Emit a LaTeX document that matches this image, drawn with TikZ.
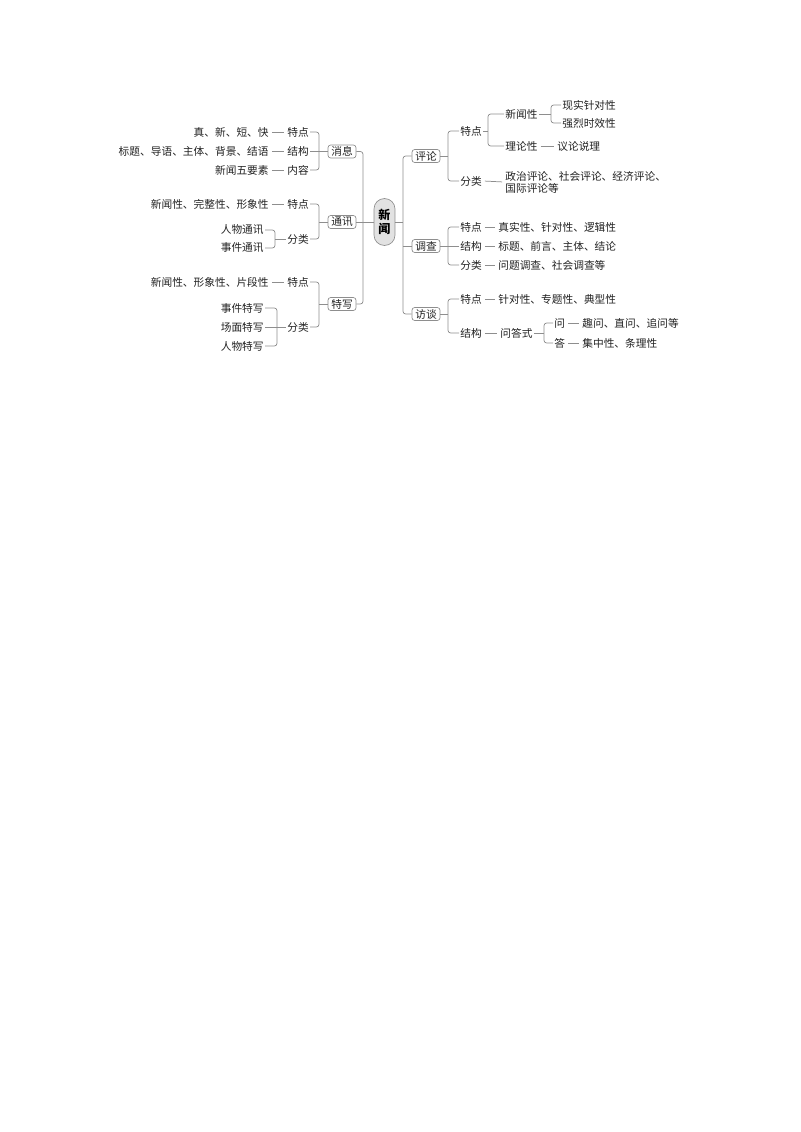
\documentclass[tikz,border=0pt]{standalone}
\usepackage{fontspec}
\setmainfont{Noto Sans CJK SC}
\usetikzlibrary{calc}
\definecolor{ln}{HTML}{8E8E8E}
\definecolor{tx}{HTML}{222222}
\definecolor{hubfill}{HTML}{E2E2E2}
\begin{document}
\begin{tikzpicture}[x=0.2625mm, y=-0.2625mm,
  t/.style={font=\fontsize{8}{9}\selectfont, text=tx, inner sep=1pt, outer sep=0pt},
  blk/.style={t, align=left, font=\fontsize{8}{9}\selectfont},
  box/.style={draw=ln, line width=0.5pt, rounded corners=2pt, fill=white, text=tx,
    font=\fontsize{8}{9}\selectfont, minimum width=7.35mm, minimum height=3.4mm, inner sep=0pt},
  hub/.style={draw=ln, line width=0.5pt, rounded corners=2.7mm, fill=hubfill, text=black,
    font=\fontsize{9}{11}\selectfont\bfseries, minimum width=5.5mm, minimum height=12.3mm,
    inner sep=0pt, align=center},
  conn/.style={draw=ln, line width=0.55pt, rounded corners=2pt},
  gap/.style={shorten <=1.4pt, shorten >=1.4pt}]
\fill[white] (0,0) rectangle (800,1132);
\useasboundingbox (0,0) rectangle (800,1132);

% trunk coordinates
\coordinate (lt) at (363,0);
\coordinate (rt) at (403,0);
\coordinate (b1) at (319,0);
\coordinate (b2) at (275,0);
\coordinate (b3) at (277,0);
\coordinate (c1) at (448,0);
\coordinate (c2) at (488,0);
\coordinate (c3) at (551,0);
\coordinate (c4) at (544,0);

% centre and first level
\node[hub] (xw) at (384.5,222) {新\\闻};
\node[box] (xx) at (342,151.5) {消息};
\node[box] (tx) at (342,222) {通讯};
\node[box] (tw) at (342,304) {特写};
\node[box] (pl) at (426,156) {评论};
\node[box] (dc) at (426,246) {调查};
\node[box] (ft) at (426,314) {访谈};

\draw[conn] (xx.east) -| (lt |- tw.east) -- (tw.east);
\draw[conn] (tx.east) -- (xw.west);
\draw[conn] (pl.west) -| (rt |- ft.west) -- (ft.west);
\draw[conn] (xw.east) -- (rt |- xw.east);
\draw[conn] (dc.west) -- (rt |- dc.west);

% ===== 消息 =====
\node[t, anchor=west] (x1) at (286,132) {特点};
\node[t, anchor=west] (x2) at (286,151.5) {结构};
\node[t, anchor=west] (x3) at (286,170) {内容};
\node[t, anchor=east] (x1a) at (270,132) {真、新、短、快};
\node[t, anchor=east] (x2a) at (270,151.5) {标题、导语、主体、背景、结语};
\node[t, anchor=east] (x3a) at (270,170) {新闻五要素};
\draw[conn, gap] (x1a.east) -- (x1.west);
\draw[conn, gap] (x2a.east) -- (x2.west);
\draw[conn, gap] (x3a.east) -- (x3.west);
\draw[conn] (x1.east) -| (b1 |- xx.west) |- (x3.east);
\draw[conn] (x2.east) -- (xx.west);

% ===== 通讯 =====
\node[t, anchor=west] (t1) at (286,204) {特点};
\node[t, anchor=west] (t2) at (286,239) {分类};
\node[t, anchor=east] (t1a) at (270,204) {新闻性、完整性、形象性};
\node[t, anchor=east] (t2a) at (265,230) {人物通讯};
\node[t, anchor=east] (t2b) at (265,248) {事件通讯};
\draw[conn, gap] (t1a.east) -- (t1.west);
\draw[conn] (t1.east) -| (b1 |- tx.west) |- (t2.east);
\draw[conn] (b1 |- tx.west) -- (tx.west);
\draw[conn] (t2a.east) -| (b2 |- t2.west) |- (t2b.east);
\draw[conn] (b2 |- t2.west) -- (t2.west);

% ===== 特写 =====
\node[t, anchor=west] (w1) at (286,282) {特点};
\node[t, anchor=west] (w2) at (286,327) {分类};
\node[t, anchor=east] (w1a) at (270,282) {新闻性、形象性、片段性};
\node[t, anchor=east] (w2a) at (265,308) {事件特写};
\node[t, anchor=east] (w2b) at (265,327) {场面特写};
\node[t, anchor=east] (w2c) at (265,346) {人物特写};
\draw[conn, gap] (w1a.east) -- (w1.west);
\draw[conn] (w1.east) -| (b1 |- tw.west) |- (w2.east);
\draw[conn] (b1 |- tw.west) -- (tw.west);
\draw[conn] (w2a.east) -| (b3 |- w2.west) |- (w2c.east);
\draw[conn] (w2b.east) -- (w2.west);

% ===== 评论 =====
\node[t, anchor=west] (p1) at (459,131) {特点};
\node[t, anchor=west] (p2) at (459,181) {分类};
\draw[conn] (p1.west) -| (c1 |- pl.east) |- (p2.west);
\draw[conn] (c1 |- pl.east) -- (pl.east);
\node[t, anchor=west] (p1a) at (504,114) {新闻性};
\node[t, anchor=west] (p1b) at (504,146) {理论性};
\draw[conn] (p1a.west) -| (c2 |- p1.east) |- (p1b.west);
\draw[conn] (p1.east) -- (c2 |- p1.east);
\node[t, anchor=west] (q1) at (561,105) {现实针对性};
\node[t, anchor=west] (q2) at (561,123) {强烈时效性};
\draw[conn] (q1.west) -| (c3 |- p1a.east) |- (q2.west);
\draw[conn] (p1a.east) -- (c3 |- p1a.east);
\node[t, anchor=west] (q3) at (556,146) {议论说理};
\draw[conn, gap] (p1b.east) -- (q3.west);
\node[blk, anchor=west] (p2a) at (504,182) {政治评论、社会评论、经济评论、\\国际评论等};
\draw[conn, gap] (p2.east) -- (p2a.west);

% ===== 调查 =====
\node[t, anchor=west] (d1) at (459,227) {特点};
\node[t, anchor=west] (d2) at (459,246) {结构};
\node[t, anchor=west] (d3) at (459,265) {分类};
\draw[conn] (d1.west) -| (c1 |- dc.east) |- (d3.west);
\draw[conn] (d2.west) -- (dc.east);
\node[t, anchor=west] (d1a) at (497,227) {真实性、针对性、逻辑性};
\node[t, anchor=west] (d2a) at (497,246) {标题、前言、主体、结论};
\node[t, anchor=west] (d3a) at (497,265) {问题调查、社会调查等};
\draw[conn, gap] (d1.east) -- (d1a.west);
\draw[conn, gap] (d2.east) -- (d2a.west);
\draw[conn, gap] (d3.east) -- (d3a.west);

% ===== 访谈 =====
\node[t, anchor=west] (f1) at (459,299) {特点};
\node[t, anchor=west] (f2) at (459,333) {结构};
\draw[conn] (f1.west) -| (c1 |- ft.east) |- (f2.west);
\draw[conn] (c1 |- ft.east) -- (ft.east);
\node[t, anchor=west] (f1a) at (497,299) {针对性、专题性、典型性};
\draw[conn, gap] (f1.east) -- (f1a.west);
\node[t, anchor=west] (qa) at (499,333) {问答式};
\draw[conn, gap] (f2.east) -- (qa.west);
\node[t, anchor=west] (g1) at (553,323) {问};
\node[t, anchor=west] (g2) at (553,343) {答};
\draw[conn] (g1.west) -| (c4 |- qa.east) |- (g2.west);
\draw[conn] (qa.east) -- (c4 |- qa.east);
\node[t, anchor=west] (g1a) at (581,323) {趣问、直问、追问等};
\node[t, anchor=west] (g2a) at (581,343) {集中性、条理性};
\draw[conn, gap] (g1.east) -- (g1a.west);
\draw[conn, gap] (g2.east) -- (g2a.west);
\end{tikzpicture}
\end{document}
